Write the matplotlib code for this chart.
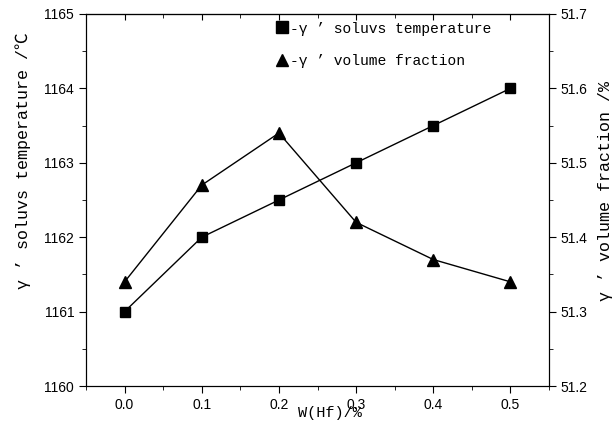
import matplotlib
matplotlib.use("Agg")
import matplotlib.pyplot as plt
from matplotlib.ticker import MultipleLocator, FormatStrFormatter
from matplotlib.lines import Line2D

hf_content = [0.0, 0.1, 0.2, 0.3, 0.4, 0.5]
solvus_temp = [1161.0, 1162.0, 1162.5, 1163.0, 1163.5, 1164.0]
volume_frac = [51.34, 51.47, 51.54, 51.42, 51.37, 51.34]

label_font = ['Liberation Mono', 'Noto Sans CJK SC', 'DejaVu Sans']
tick_font = 'Liberation Sans'

fig = plt.figure(figsize=(6.13, 4.28), dpi=100)
ax = fig.add_axes([0.1403, 0.0981, 0.7553, 0.8692])
ax2 = ax.twinx()

ax.plot(hf_content, solvus_temp, color='black', lw=1, marker='s', ms=7)
ax2.plot(hf_content, volume_frac, color='black', lw=1, marker='^', ms=8)

ax.set_xlim(-0.05, 0.55)
ax.set_ylim(1160, 1165)
ax2.set_ylim(51.2, 51.7)

ax.set_xticks(hf_content)
ax.xaxis.set_minor_locator(MultipleLocator(0.05))
ax.yaxis.set_major_locator(MultipleLocator(1))
ax.yaxis.set_minor_locator(MultipleLocator(0.5))
ax2.yaxis.set_major_locator(MultipleLocator(0.1))
ax2.yaxis.set_minor_locator(MultipleLocator(0.05))
ax.xaxis.set_major_formatter(FormatStrFormatter('%.1f'))
ax.yaxis.set_major_formatter(FormatStrFormatter('%d'))
ax2.yaxis.set_major_formatter(FormatStrFormatter('%.1f'))

ax.tick_params(axis='both', which='major', direction='out', length=5, labelsize=10)
ax.tick_params(axis='both', which='minor', direction='out', length=3)
ax2.tick_params(axis='y', which='major', direction='out', length=5, labelsize=10)
ax2.tick_params(axis='y', which='minor', direction='out', length=3)

# top axis: inward ticks, no labels
top = ax.secondary_xaxis('top')
top.set_xticks(hf_content)
top.xaxis.set_minor_locator(MultipleLocator(0.05))
top.tick_params(which='major', direction='in', length=4, labeltop=False)
top.tick_params(which='minor', direction='in', length=3)

for lab in ax.get_xticklabels() + ax.get_yticklabels() + ax2.get_yticklabels():
    lab.set_family(tick_font)

ax.set_xlabel("W(Hf)/%", family=label_font, fontsize=11)
ax.xaxis.set_label_coords(0.527, -0.055)
ax.set_ylabel("γ ’ soluvs temperature /℃", family=label_font, fontsize=12)
ax.yaxis.set_label_coords(-0.118, 0.605)
ax2.set_ylabel("γ ’ volume fraction /%", family=label_font, fontsize=12)
ax2.yaxis.set_label_coords(1.106, 0.524)

handles = [Line2D([], [], color='black', marker='s', ms=8, ls='none'),
           Line2D([], [], color='black', marker='^', ms=9, ls='none')]
labels = ["-γ ’ soluvs temperature", "-γ ’ volume fraction"]
leg = ax.legend(handles, labels, loc='upper left', bbox_to_anchor=(0.383, 1.015),
                frameon=False, handlelength=0.8, handletextpad=0.1,
                labelspacing=1.3, prop={'family': label_font, 'size': 10.5})

fig.savefig("out.png", dpi=100)
